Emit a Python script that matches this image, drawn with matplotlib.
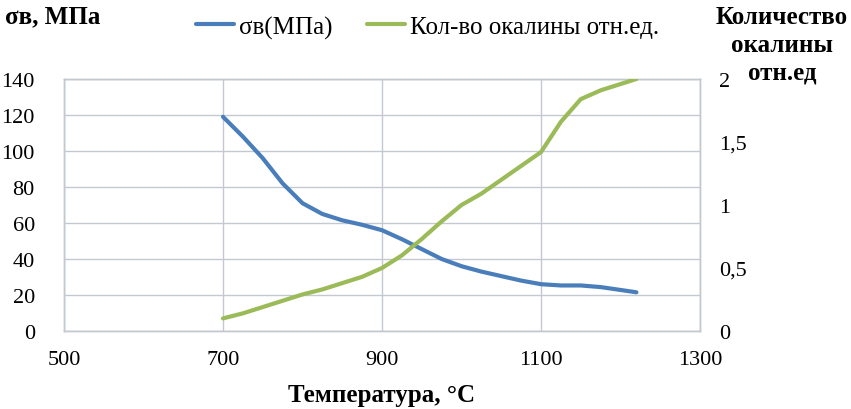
import matplotlib
matplotlib.use("Agg")
import matplotlib.pyplot as plt

plt.rcParams['font.family'] = ['Liberation Serif', 'DejaVu Serif']

# Temperature, °C
temp = [700, 725, 750, 775, 800, 825, 850, 875, 900, 925, 950, 975, 1000,
        1025, 1050, 1075, 1100, 1125, 1150, 1175, 1200, 1220]
# Ultimate strength, MPa
sigma = [119, 108, 96, 82, 71, 65, 61.5, 59, 56, 51, 45.5, 40, 36,
         33, 30.5, 28, 26, 25.3, 25.3, 24.4, 22.8, 21.5]
# Scale amount, rel. units
scale = [0.10, 0.14, 0.19, 0.24, 0.29, 0.33, 0.38, 0.43, 0.50, 0.60, 0.73,
         0.87, 1.0, 1.09, 1.20, 1.31, 1.42, 1.66, 1.84, 1.91, 1.96, 2.0]

x_ticks = [500, 700, 900, 1100, 1300]
left_ticks = [0, 20, 40, 60, 80, 100, 120, 140]
right_ticks = [0, 0.5, 1, 1.5, 2]
right_labels = ['0', '0,5', '1', '1,5', '2']
right_title = ['Количество', 'окалины', 'отн.ед']

blue = '#4a7ebb'
green = '#9bbb59'
grid_c = '#c3c8d1'

fig = plt.figure(figsize=(8.51, 4.10), dpi=100)
ax = fig.add_axes([64/851, 1 - 332/410, 636/851, 252/410])
ax2 = ax.twinx()

l1, = ax.plot(temp, sigma, color=blue, lw=3, solid_capstyle='round',
              solid_joinstyle='round', label='σв(МПа)', zorder=3)
l2, = ax2.plot(temp, scale, color=green, lw=3, solid_capstyle='round',
               solid_joinstyle='round', label='Кол-во окалины отн.ед.', zorder=3)

ax.set_xlim(500, 1300)
ax.set_ylim(0, 140)
ax2.set_ylim(0, 2)
ax.set_xticks(x_ticks)
ax.set_yticks(left_ticks)
ax2.set_yticks(right_ticks)
ax2.set_yticklabels(right_labels)

ax.grid(True, color=grid_c, lw=1)
ax.set_axisbelow(True)
for a in (ax, ax2):
    for s in a.spines.values():
        s.set_color(grid_c)
        s.set_linewidth(1)
    a.tick_params(length=0, labelsize=16)
ax.tick_params(axis='y', pad=21)
ax.tick_params(axis='x', pad=14)
ax2.tick_params(axis='y', pad=14)

ax.set_xlabel('Температура, °C', fontsize=18, fontweight='bold', labelpad=10)
fig.text(5/851, 1 - 17/410, 'σв, МПа', fontsize=18, fontweight='bold',
         ha='left', va='center')
# right axis title, one line per text
for i, line in enumerate(right_title):
    fig.text(782/851, 1 - (17 + 28*i)/410, line, fontsize=18,
             fontweight='bold', ha='center', va='center')

fig.legend(handles=[l1, l2], loc='center left', bbox_to_anchor=(196/851, 1 - 28/410),
           ncol=2, frameon=False, fontsize=18, handlelength=1.5,
           handletextpad=0.2, columnspacing=1.4, borderpad=0, borderaxespad=0)

fig.savefig('out.png', dpi=100)
